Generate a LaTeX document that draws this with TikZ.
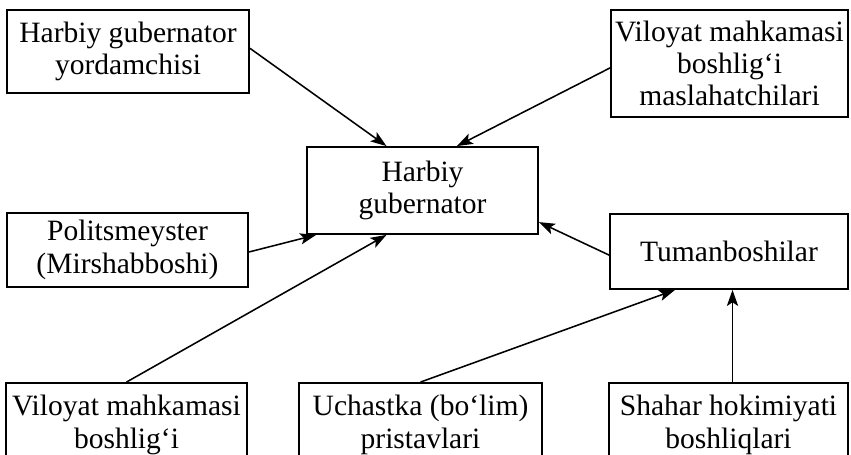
\documentclass[tikz,border=0pt]{standalone}
\usepackage{fontspec}
\setmainfont{Liberation Serif}
\usetikzlibrary{arrows.meta}
\tikzset{
	postbox/.style={draw, line width=1.3pt, align=center, inner sep=0pt, font=\fontsize{21}{23}\selectfont},
	linkarrow/.style={line width=1.1pt, -{Stealth[length=4mm,width=2.8mm,inset=0.9mm]}}
}

\begin{document}
\begin{tikzpicture}
			%%%%% START %%%%%
			\useasboundingbox (0, 0) rectangle (21.275, 11.375);
			
			\node[postbox, minimum width=6.05cm, minimum height=2.075cm] (yordam) at (3.2, 10.0875) {Harbiy gubernator\\yordamchisi};
			\node[postbox, minimum width=5.925cm, minimum height=2.675cm] (maslahat) at (18.2375, 9.7875) {Viloyat mahkamasi\\boshlig‘i\\maslahatchilari};
			\node[postbox, minimum width=5.775cm, minimum height=2.175cm] (gubernator) at (10.5625, 6.6125) {Harbiy\\gubernator};
			\node[postbox, minimum width=6.025cm, minimum height=1.85cm] (politsmeyster) at (3.1875, 5.125) {Politsmeyster\\(Mirshabboshi)};
			\node[postbox, minimum width=5.95cm, minimum height=1.875cm] (tuman) at (18.225, 5.0875) {Tumanboshilar};
			
			\node[postbox, minimum width=6.025cm, minimum height=2.1cm] (mahkama) at (3.1625, 0.75) {Viloyat mahkamasi\\boshlig‘i};
			\node[postbox, minimum width=6.075cm, minimum height=2.1cm] (uchastka) at (10.5125, 0.75) {Uchastka (bo‘lim)\\pristavlari};
			\node[postbox, minimum width=5.975cm, minimum height=2.1cm] (shahar) at (18.2125, 0.75) {Shahar hokimiyati\\boshliqlari};
			
			\draw[linkarrow] ([yshift=0.08cm]yordam.east) -- ([xshift=-0.9cm]gubernator.north);
			\draw[linkarrow] ([yshift=-0.11cm]maslahat.west) -- ([xshift=0.86cm]gubernator.north);
			\draw[linkarrow] ([yshift=-0.05cm]politsmeyster.east) -- ([xshift=0.25cm]gubernator.south west);
			\draw[linkarrow] (mahkama.north) -- ([xshift=-0.9cm]gubernator.south);
			\draw[linkarrow] ([yshift=-0.09cm]tuman.west) -- ([yshift=-0.79cm]gubernator.east);
			\draw[linkarrow] (uchastka.north) -- ([xshift=-1.35cm]tuman.south);
			\draw[linkarrow] ([xshift=0.1cm]shahar.north) -- ([xshift=0.1cm]shahar.north |- tuman.south);
			%%%%% END %%%%%
		\end{tikzpicture}
\end{document}
